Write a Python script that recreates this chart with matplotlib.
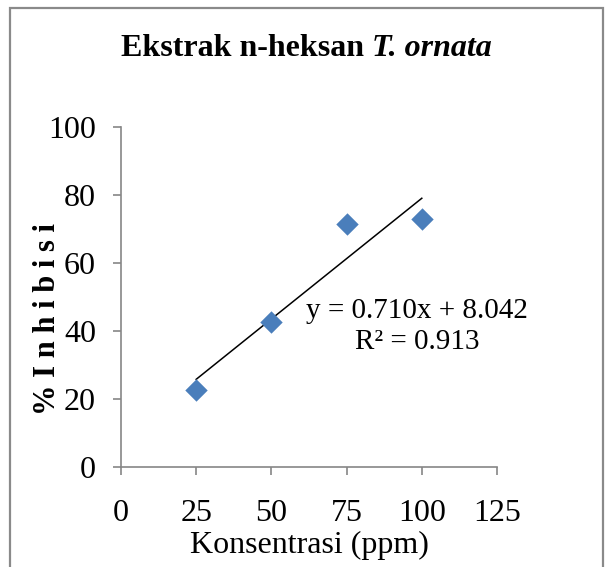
import matplotlib
matplotlib.use("Agg")
import matplotlib.pyplot as plt
from matplotlib.patches import Rectangle
import numpy as np

# Data
konsentrasi = [25, 50, 75, 100]
inhibisi = [22.6, 42.6, 71.5, 72.9]
slope = 0.710
intercept = 8.042
r2 = 0.913
x_ticks = [0, 25, 50, 75, 100, 125]
y_ticks = [0, 20, 40, 60, 80, 100]

plt.rcParams['font.family'] = ['Liberation Serif', 'DejaVu Serif']

W, H = 609, 567
fig = plt.figure(figsize=(W / 100, H / 100), dpi=100)

# outer chart border
fig.patches.append(Rectangle((10 / W, -0.05), (603 - 10) / W, 1 - 8 / H + 0.05,
                             transform=fig.transFigure, fill=False,
                             edgecolor='#8a8a8a', linewidth=1.6))

ax = fig.add_axes([121 / W, 1 - 467 / H, (497 - 121) / W, (467 - 127) / H])
ax.set_xlim(0, 125)
ax.set_ylim(0, 100)

ax.scatter(konsentrasi, inhibisi, marker='D', s=130, color='#4A7EBB', zorder=3,
           linewidths=0)
xl = np.array([konsentrasi[0], konsentrasi[-1]])
ax.plot(xl, slope * xl + intercept, color='black', linewidth=1.1, zorder=2)

ax.text(98.4, 41.2, f"y = {slope:.3f}x + {intercept:.3f}\nR² = {r2:.3f}",
        ha='center', va='center', multialignment='center', fontsize=21,
        linespacing=1.25)

for s in ['top', 'right']:
    ax.spines[s].set_visible(False)
for s in ['left', 'bottom']:
    ax.spines[s].set_color('#868686')
    ax.spines[s].set_linewidth(1.2)

ax.set_xticks(x_ticks)
ax.set_yticks(y_ticks)
ax.tick_params(axis='both', direction='out', length=6, width=1.2,
               color='#868686', labelsize=23, labelcolor='black')
ax.tick_params(axis='x', pad=17)
ax.tick_params(axis='y', pad=12)

ax.set_xlabel('Konsentrasi (ppm)', fontsize=23, labelpad=2)
fig.text(48 / W, 1 - 319 / H, '% I n h i b i s i', rotation=90, ha='center',
         va='center', fontsize=22, fontweight='bold')

# Title: upright bold part + bold italic part, centred together
renderer = fig.canvas.get_renderer()
t1 = fig.text(0, 1 - 48 / H, 'Ekstrak n-heksan ', ha='left', va='center',
              fontsize=23, fontweight='bold')
t2 = fig.text(0, 1 - 48 / H, 'T. ornata', ha='left', va='center',
              fontsize=23, fontweight='bold', fontstyle='italic')
w1 = t1.get_window_extent(renderer).width
w2 = t2.get_window_extent(renderer).width
x0 = 306 - (w1 + w2) / 2
t1.set_x(x0 / W)
t2.set_x((x0 + w1) / W)

fig.savefig('out.png', dpi=100)
